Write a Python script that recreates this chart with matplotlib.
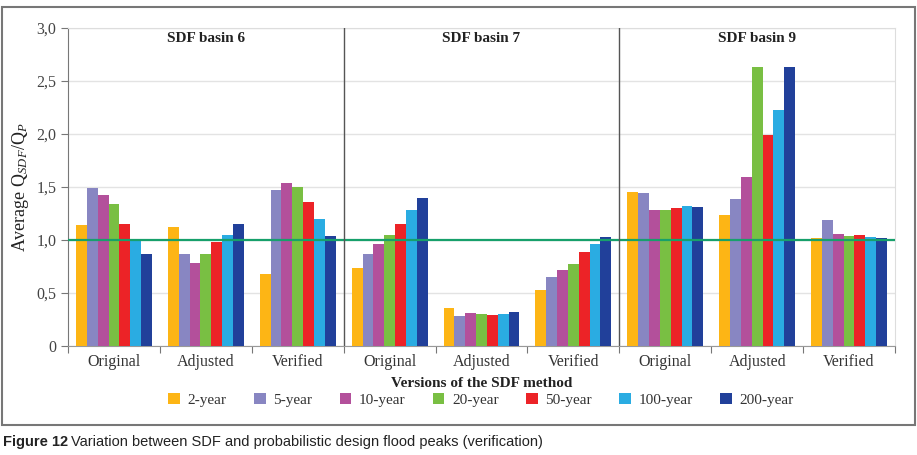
import numpy as np
import matplotlib
matplotlib.use("Agg")
import matplotlib.pyplot as plt
from matplotlib.patches import Rectangle

# groups: basin 6, 7, 9 x versions of the SDF method
basins = ['SDF basin 6', 'SDF basin 7', 'SDF basin 9']
versions = ['Original', 'Adjusted', 'Verified']
periods = ['2-year', '5-year', '10-year', '20-year', '50-year', '100-year', '200-year']

year2 = [1.14, 1.12, 0.68, 0.74, 0.36, 0.53, 1.45, 1.24, 1.02]
year5 = [1.49, 0.87, 1.47, 0.87, 0.28, 0.655, 1.44, 1.39, 1.19]
year10 = [1.42, 0.78, 1.54, 0.96, 0.31, 0.72, 1.28, 1.59, 1.06]
year20 = [1.34, 0.87, 1.50, 1.045, 0.30, 0.77, 1.28, 2.63, 1.04]
year50 = [1.155, 0.98, 1.355, 1.15, 0.295, 0.885, 1.30, 1.99, 1.045]
year100 = [1.01, 1.045, 1.20, 1.285, 0.305, 0.96, 1.32, 2.23, 1.03]
year200 = [0.865, 1.15, 1.035, 1.40, 0.32, 1.03, 1.31, 2.63, 1.015]

series = [year2, year5, year10, year20, year50, year100, year200]
colors = ['#FDB515', '#8886C2', '#B3509B', '#79BF43', '#EC2327', '#2AACE2', '#21409A']

plt.rcParams['font.family'] = ['Liberation Serif', 'DejaVu Serif']
plt.rcParams['mathtext.fontset'] = 'custom'
plt.rcParams['mathtext.rm'] = 'Liberation Serif'
plt.rcParams['mathtext.it'] = 'Liberation Serif:italic'

W, H = 917, 455
fig = plt.figure(figsize=(W / 100, H / 100), dpi=100)
ax = fig.add_axes([68 / W, (H - 346) / H, (895 - 68) / W, (346 - 28) / H])

n_groups = len(year2)
x = np.arange(n_groups)
bw = 0.118
for i, (vals, c) in enumerate(zip(series, colors)):
    ax.bar(x + (i - 3) * bw, vals, width=bw, color=c, label=periods[i], zorder=3)

ax.axhline(1.0, color='#17A06B', lw=1.6, zorder=4)

ax.set_xlim(-0.5, n_groups - 0.5)
ax.set_ylim(0, 3.0)
yt = np.arange(0, 3.01, 0.5)
ax.set_yticks(yt)
ax.set_yticklabels(['0'] + [('%.1f' % v).replace('.', ',') for v in yt[1:]])
ax.yaxis.grid(True, color='#e3e3e3', lw=1, zorder=0)

# group boundary ticks, labels at centres
ax.set_xticks(np.arange(-0.5, n_groups, 1.0))
ax.set_xticklabels([])
ax.set_xticks(x, minor=True)
ax.set_xticklabels(versions * 3, minor=True, fontsize=11.5, color='#333333')
ax.tick_params(axis='x', which='minor', length=0, pad=6)
ax.tick_params(axis='x', which='major', length=5, color='#777777', direction='out')
ax.tick_params(axis='y', length=5, color='#777777', labelsize=11.5, labelcolor='#444444')

for b in [2.5, 5.5]:
    ax.axvline(b, color='#555555', lw=1, zorder=5)
for k, name in enumerate(basins):
    ax.text(3 * k + 1, 2.9, name, ha='center', va='center', fontsize=11,
            fontweight='bold', color='#222222')

ax.spines['left'].set_color('#777777')
ax.spines['bottom'].set_color('#999999')
ax.spines['top'].set_color('#dddddd')
ax.spines['right'].set_color('#dddddd')

ax.set_ylabel(r'Average Q$_{SDF}$/Q$_{P}$', fontsize=13, color='#222222', labelpad=4)
ax.set_xlabel('Versions of the SDF method', fontsize=11, fontweight='bold',
              color='#222222', labelpad=5)

fig.legend(loc='center', bbox_to_anchor=(481 / W, (H - 400) / H), ncol=7, frameon=False,
           fontsize=11, handlelength=0.75, handleheight=0.75, handletextpad=0.5,
           columnspacing=1.8, labelcolor='#333333')

# outer frame
fig.patches.append(Rectangle((2 / W, (H - 425) / H), (913 / W), (425 - 7) / H,
                             transform=fig.transFigure, fill=False,
                             edgecolor='#777777', lw=1.5))

# caption
t1 = fig.text(3 / W, (H - 442) / H, 'Figure 12', fontsize=10.5, fontweight='bold',
              family='Liberation Sans', va='center', color='#222222')
fig.canvas.draw()
bb = t1.get_window_extent()
fig.text((bb.x1 + 3) / W, (H - 442) / H,
         'Variation between SDF and probabilistic design flood peaks (verification)',
         fontsize=10.5, family='Liberation Sans', va='center', color='#222222')

fig.savefig('out.png', dpi=100)
